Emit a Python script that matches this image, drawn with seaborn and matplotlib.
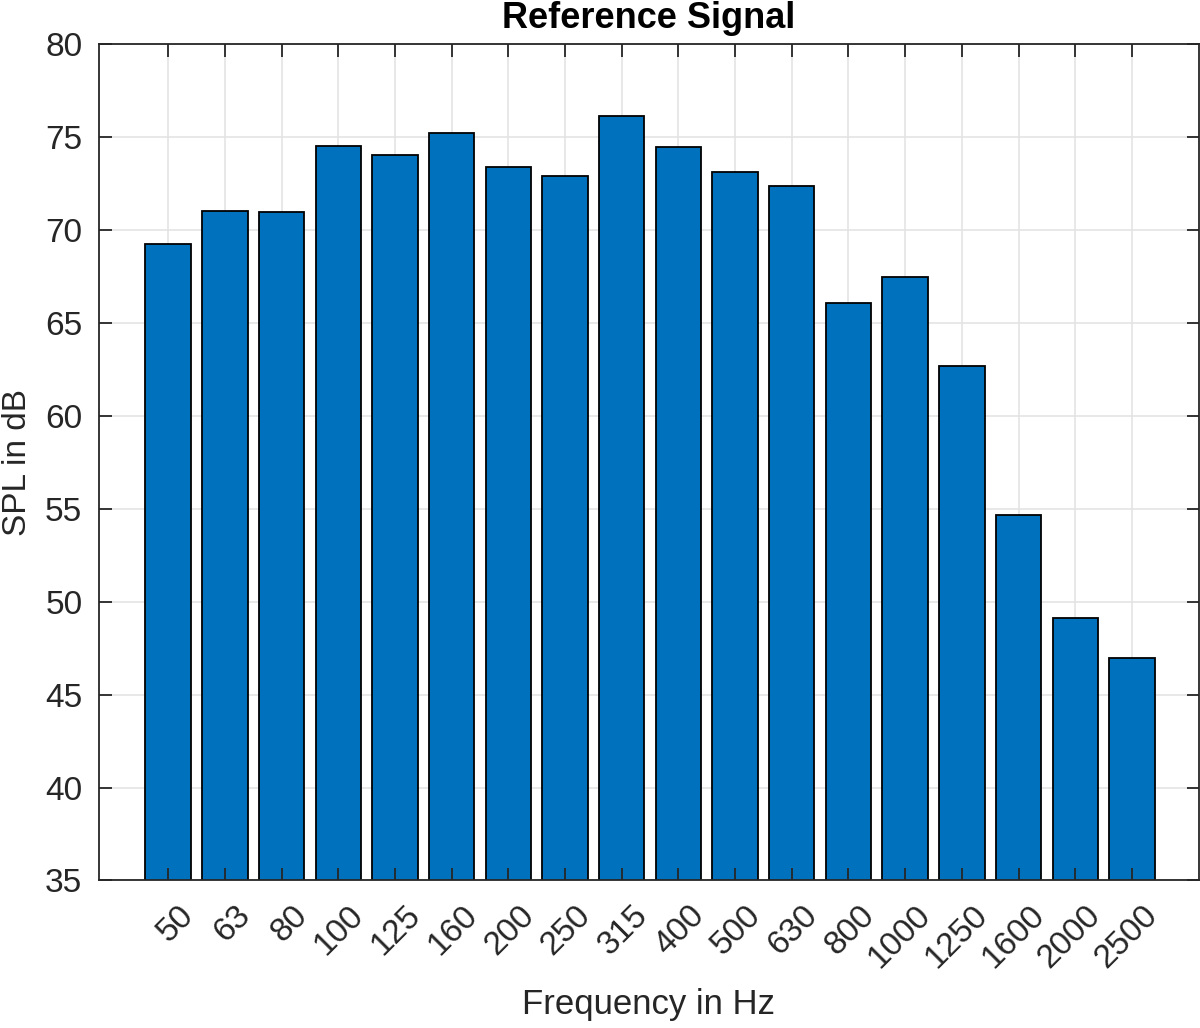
import numpy as np
import pandas as pd
import seaborn as sns
import matplotlib.pyplot as plt
import matplotlib.transforms as mtransforms

# third-octave band centres and levels
freq_labels = ['50', '63', '80', '100', '125', '160', '200', '250', '315',
               '400', '500', '630', '800', '1000', '1250', '1600', '2000', '2500']
spl_db = [69.25, 71.0, 70.95, 74.5, 74.05, 75.2, 73.4, 72.9, 76.15,
          74.45, 73.15, 72.35, 66.05, 67.45, 62.7, 54.68, 49.15, 46.98]
y_ticks = [35, 40, 45, 50, 55, 60, 65, 70, 75, 80]

df = pd.DataFrame({'freq': freq_labels, 'spl': spl_db})

sns.set_theme(style='white')
plt.rcParams['font.family'] = ['Liberation Sans', 'DejaVu Sans']

fig = plt.figure(figsize=(12, 10.28), dpi=100)
ax = fig.add_axes([0.0825, 0.1435, 0.9165, 0.8135])

sns.barplot(data=df, x='freq', y='spl', order=freq_labels, color='#0072BD',
            saturation=1, width=0.8, edgecolor='black', linewidth=1.3, ax=ax,
            zorder=2)

ax.set_ylim(35, 80)
ax.set_xlim(-1.22, 18.18)
ax.set_yticks(y_ticks)

# MATLAB-like grid: behind the bars, ticks stay on top
for yv in y_ticks:
    ax.axhline(yv, color='#e2e2e2', linewidth=1.1, zorder=0)
for xv in range(len(freq_labels)):
    ax.axvline(xv, color='#e2e2e2', linewidth=1.1, zorder=0)
ax.set_axisbelow(False)

for side in ['top', 'right', 'left', 'bottom']:
    ax.spines[side].set_visible(True)
    ax.spines[side].set_color('#262626')
    ax.spines[side].set_linewidth(1.3)

ax.tick_params(axis='both', direction='in', length=9, width=1.3,
               colors='#262626', labelcolor='#262626', labelsize=24,
               top=True, right=True, bottom=True, left=True)
ax.tick_params(axis='x', pad=14)
ax.tick_params(axis='y', pad=12)
shift = mtransforms.ScaledTranslation(10 / 100, 0, fig.dpi_scale_trans)
for lbl in ax.get_xticklabels():
    lbl.set_rotation(45)
    lbl.set_ha('right')
    lbl.set_rotation_mode('anchor')
    lbl.set_transform(lbl.get_transform() + shift)

ax.set_title('Reference Signal', fontsize=26, fontweight='bold', pad=12,
             color='black')
ax.set_xlabel('Frequency in Hz', fontsize=25, color='#262626', labelpad=10)
ax.set_ylabel('SPL in dB', fontsize=24, color='#262626', labelpad=9)

fig.savefig('out.png', dpi=100)
